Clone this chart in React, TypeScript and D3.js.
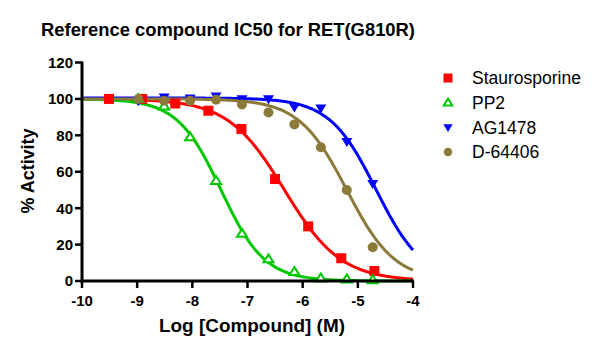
import React from "react";
import * as d3 from "d3";

// log concentrations (M)
const xRed = [-9.51, -8.91, -8.31, -7.71, -7.11, -6.5, -5.9, -5.3, -4.7];
const xThreeFold = [-8.98, -8.51, -8.04, -7.57, -7.1, -6.62, -6.15, -5.67, -5.2, -4.73];

// % activity
const staurosporine = [100, 100, 97.5, 93.5, 83.5, 56, 30, 12.5, 5.5];
const pp2 = [100, 96, 79, 55, 26, 12, 5, 1.5, 1, 0.5];
const ag1478 = [99, 101, 100.5, 101.5, 100, 100, 95.5, 95, 76.5, 53.5];
const d64406 = [100, 99, 99, 99.5, 97, 92.5, 86, 73.5, 50, 18.5];

// fitted curve params: [top, bottom, logIC50, hill]
const fitStauro = [100, 0, -6.33, 0.85];
const fitPP2 = [100, 0, -7.48, 1.1];
const fitAG = [100.5, 0, -4.67, 1.03];
const fitD64 = [100, 0, -5.2, 1.0];

const xTicks = [-10, -9, -8, -7, -6, -5, -4];
const yTicks = [0, 20, 40, 60, 80, 100, 120];

const series = [
  { name: "Staurosporine", xs: xRed, ys: staurosporine, fit: fitStauro, color: "#ff0000", shape: "square" },
  { name: "PP2", xs: xThreeFold, ys: pp2, fit: fitPP2, color: "#00c800", shape: "triUp" },
  { name: "AG1478", xs: xThreeFold, ys: ag1478, fit: fitAG, color: "#0000ff", shape: "triDown" },
  { name: "D-64406", xs: xThreeFold, ys: d64406, fit: fitD64, color: "#8b7a3a", shape: "circle" },
];

const font = "'Liberation Sans', Arial, sans-serif";

function Marker({ shape, color, x, y, s = 1 }: any) {
  if (shape === "square") {
    return <rect x={x - 5 * s} y={y - 5 * s} width={10 * s} height={10 * s} fill={color} />;
  }
  if (shape === "circle") {
    return <circle cx={x} cy={y} r={5 * s} fill={color} />;
  }
  if (shape === "triUp") {
    const h = 8 * s, w = 5 * s;
    return (
      <path
        d={`M${x},${y - h * 0.6}L${x + w},${y + h * 0.4}L${x - w},${y + h * 0.4}Z`}
        fill="#fff"
        stroke={color}
        strokeWidth={2}
      />
    );
  }
  const h = 9 * s, w = 5.5 * s;
  return <path d={`M${x},${y + h * 0.6}L${x + w},${y - h * 0.4}L${x - w},${y - h * 0.4}Z`} fill={color} />;
}

export default function App() {
  const x = d3.scaleLinear().domain([-10, -4]).range([82, 413]);
  const y = d3.scaleLinear().domain([0, 120]).range([281, 62.5]);

  const logistic = (p: number[], v: number) => p[1] + (p[0] - p[1]) / (1 + Math.pow(10, p[3] * (v - p[2])));
  const samples = d3.range(0, 301).map((i) => -10 + (6 * i) / 300);
  const line = d3
    .line<number>()
    .x((d) => x(d))
    .curve(d3.curveLinear);

  return (
    <svg width={600} height={351} style={{ position: "absolute", left: 0, top: 0, background: "#fff" }}>
      <text x={41} y={36} fontFamily={font} fontWeight="bold" fontSize={18.5} fill="#000" textLength={374} lengthAdjust="spacingAndGlyphs">
        Reference compound IC50 for RET(G810R)
      </text>

      {/* curves */}
      {series.map((s) => (
        <path
          key={s.name + "c"}
          d={line.y((d) => y(logistic(s.fit, d)))(samples) || ""}
          fill="none"
          stroke={s.color}
          strokeWidth={3}
        />
      ))}

      {/* points */}
      {series.map((s) => (
        <g key={s.name + "p"}>
          {s.xs.map((v, i) => (
            <Marker key={i} shape={s.shape} color={s.color} x={x(v)} y={y(s.ys[i])} />
          ))}
        </g>
      ))}

      {/* axes */}
      <g stroke="#000" strokeWidth={3}>
        <line x1={x(-10)} x2={x(-10)} y1={y(120) - 1} y2={y(0) + 1.5} />
        <line x1={x(-10) - 1.5} x2={x(-4) + 1} y1={y(0)} y2={y(0)} />
        {yTicks.map((t) => (
          <line key={t} x1={x(-10) - 7} x2={x(-10)} y1={y(t)} y2={y(t)} strokeWidth={2.5} />
        ))}
        {xTicks.map((t) => (
          <line key={t} x1={x(t)} x2={x(t)} y1={y(0)} y2={y(0) + 7} strokeWidth={2.5} />
        ))}
      </g>
      <g fontFamily={font} fontWeight="bold" fontSize={15} fill="#000">
        {yTicks.map((t) => (
          <text key={t} x={x(-10) - 9} y={y(t)} dy="0.36em" textAnchor="end">
            {t}
          </text>
        ))}
        {xTicks.map((t) => (
          <text key={t} x={x(t)} y={y(0) + 25} textAnchor="middle">
            {t}
          </text>
        ))}
      </g>
      <text x={252} y={332} textAnchor="middle" fontFamily={font} fontWeight="bold" fontSize={17.5} textLength={186} lengthAdjust="spacingAndGlyphs">
        Log [Compound] (M)
      </text>
      <text
        transform={`translate(34,171) rotate(-90)`}
        textAnchor="middle"
        fontFamily={font}
        fontWeight="bold"
        fontSize={17.5}
        textLength={85}
        lengthAdjust="spacingAndGlyphs"
      >
        % Activity
      </text>

      {/* legend */}
      {series.map((s, i) => (
        <g key={s.name + "l"}>
          <Marker shape={s.shape} color={s.color} x={448} y={78 + i * 24.7} s={s.shape === "square" ? 0.9 : 0.85} />
          <text x={472} y={78 + i * 24.7} dy="0.36em" fontFamily={font} fontSize={17.5} fill="#000">
            {s.name}
          </text>
        </g>
      ))}
    </svg>
  );
}
